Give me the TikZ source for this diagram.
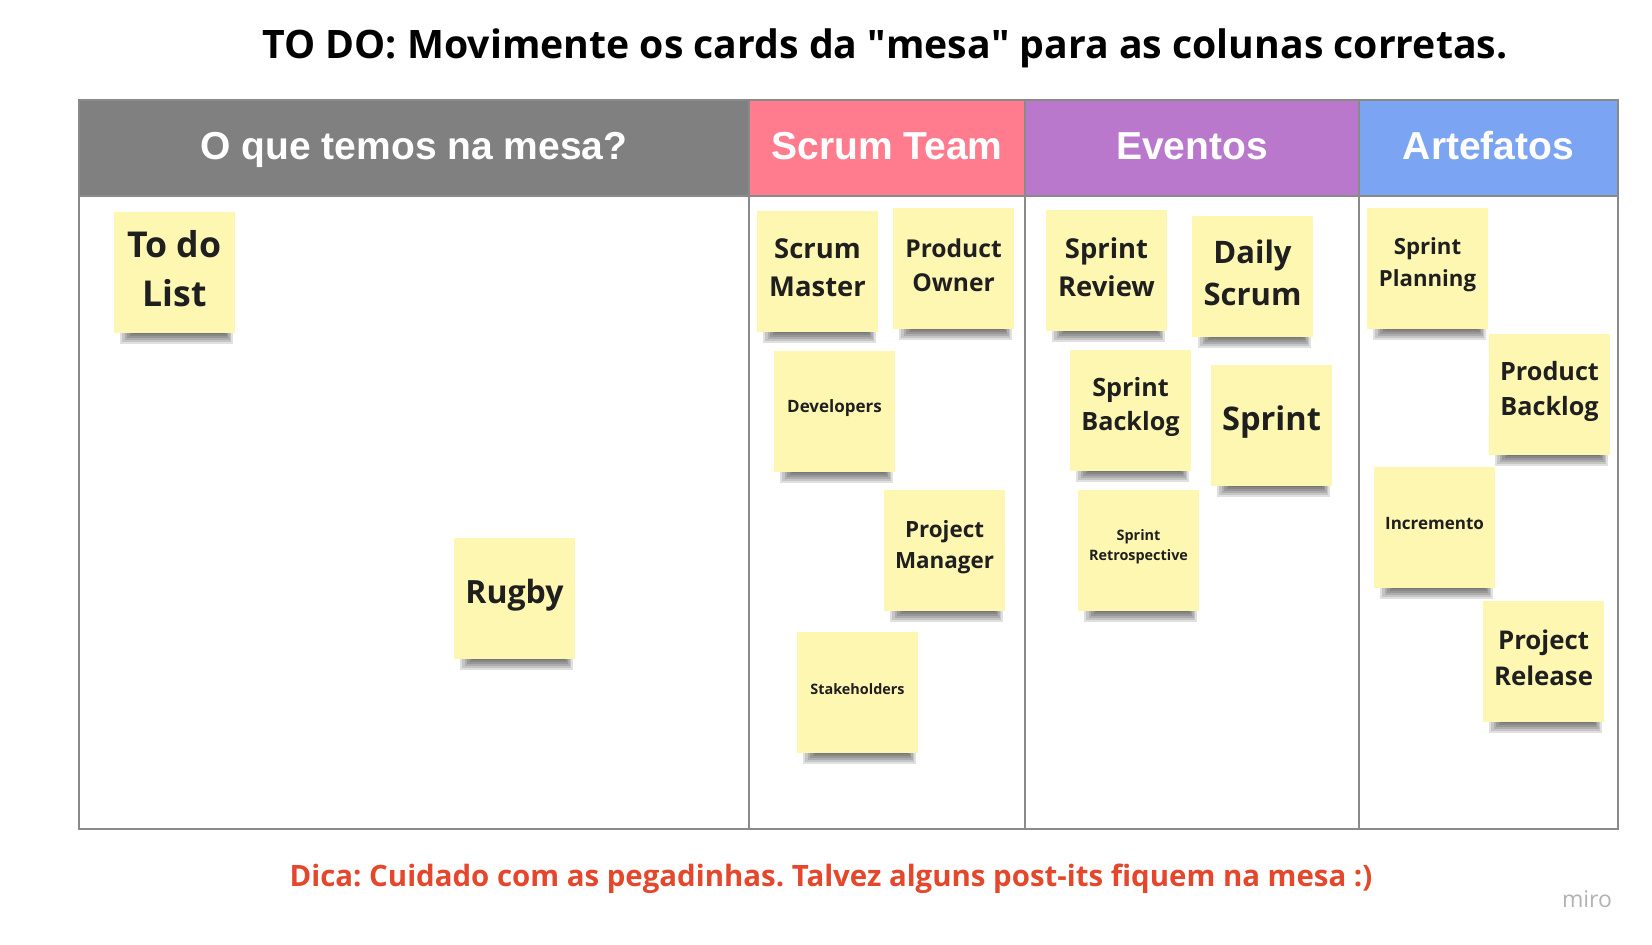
\documentclass[tikz,border=0pt]{standalone}
\usepackage{fontspec}
\setmainfont{Open Sans}
\newfontfamily\hdfont{Liberation Sans}
\usepackage{xcolor}
\usepackage{tikz}
\frenchspacing

\definecolor{notecol}{HTML}{FEF7B2}
\definecolor{hdgray}{HTML}{808080}
\definecolor{hdpink}{HTML}{FF7C8E}
\definecolor{hdpurple}{HTML}{B978CC}
\definecolor{hdblue}{HTML}{7BA4F2}
\definecolor{hintred}{HTML}{E4472C}
\definecolor{linegray}{HTML}{8A8A8A}

\tikzset{
  notetext/.style={align=center, inner sep=0pt, text=black!88},
  hdtext/.style={text=white, anchor=base, font=\hdfont\bfseries\fontsize{19.5}{23}\selectfont},
  boardline/.style={draw=linegray, line width=0.6pt},
}

\begin{document}
\begin{tikzpicture}[x=0.5pt, y=-0.5pt]
    \useasboundingbox (0,0) rectangle (1652,945);
    \node (title) at (885,48) {\bfseries\fontsize{19.6}{23}\selectfont TO DO: Movimente os cards da \textquotedbl mesa\textquotedbl\ para as colunas corretas.};
    \foreach \n/\xa/\xb/\c/\t in {mesa/79/749/hdgray/O que temos na mesa?,team/749/1025/hdpink/Scrum Team,eventos/1025/1359/hdpurple/Eventos,artefatos/1359/1618/hdblue/Artefatos} {
      \fill[\c] (\xa,100) rectangle (\xb,196);
      \node[hdtext] (\n) at ({(\xa+\xb)/2},160) {\t};
    }
    \draw[boardline] (79,100) rectangle (1618,829);
    \draw[boardline] (79,196) -- (1618,196);
    \foreach \x in {749,1025,1359}
      \draw[boardline] (\x,100) -- (\x,829);
    \foreach \n/\x/\y/\fsz/\lsk/\txt in {
        todo/114/212/17.8/24.5/To do\\List,
        rugby/454/538/16/20/Rugby,
        smaster/757/211/13.7/19/Scrum\\Master,
        powner/893/208/12.3/16.8/Product\\Owner,
        devs/774/351/8.5/10/Developers,
        pmanager/884/490/11.2/15.8/Project\\Manager,
        stake/797/632/7.2/9/Stakeholders,
        sreview/1046/210/13.7/19/Sprint\\Review,
        daily/1192/216/15.5/21/Daily\\Scrum,
        sbacklog/1070/350/12.6/17/Sprint\\Backlog,
        sprint/1211/365/16.3/20/Sprint,
        sretro/1078/490/7.2/10/Sprint\\Retrospective,
        splanning/1367/208/11.1/15.8/Sprint\\Planning,
        pbacklog/1489/334/12.6/17.5/Product\\Backlog,
        incr/1374/467/8.5/10/Incremento,
        prelease/1483/601/12.9/18/Project\\Release} {
      \foreach \k in {1,...,6}
        \fill[black, opacity=0.12] (\x+3+2.5*\k,\y+118) rectangle (\x+120-1.5*\k,\y+134-2*\k);
      \fill[notecol] (\x,\y) rectangle (\x+121,\y+121);
      \node[notetext, font=\bfseries\fontsize{\fsz}{\lsk}\selectfont] (\n) at (\x+60.5,\y+57) {\txt};
    }
    \node[text=hintred] (hint) at (831,879) {\bfseries\fontsize{14.7}{17}\selectfont Dica: Cuidado com as pegadinhas. Talvez alguns post-its fiquem na mesa :)};
    \node[text=black!30] (miro) at (1587,899) {\fontsize{11.5}{13}\selectfont miro};
\end{tikzpicture}
\end{document}
